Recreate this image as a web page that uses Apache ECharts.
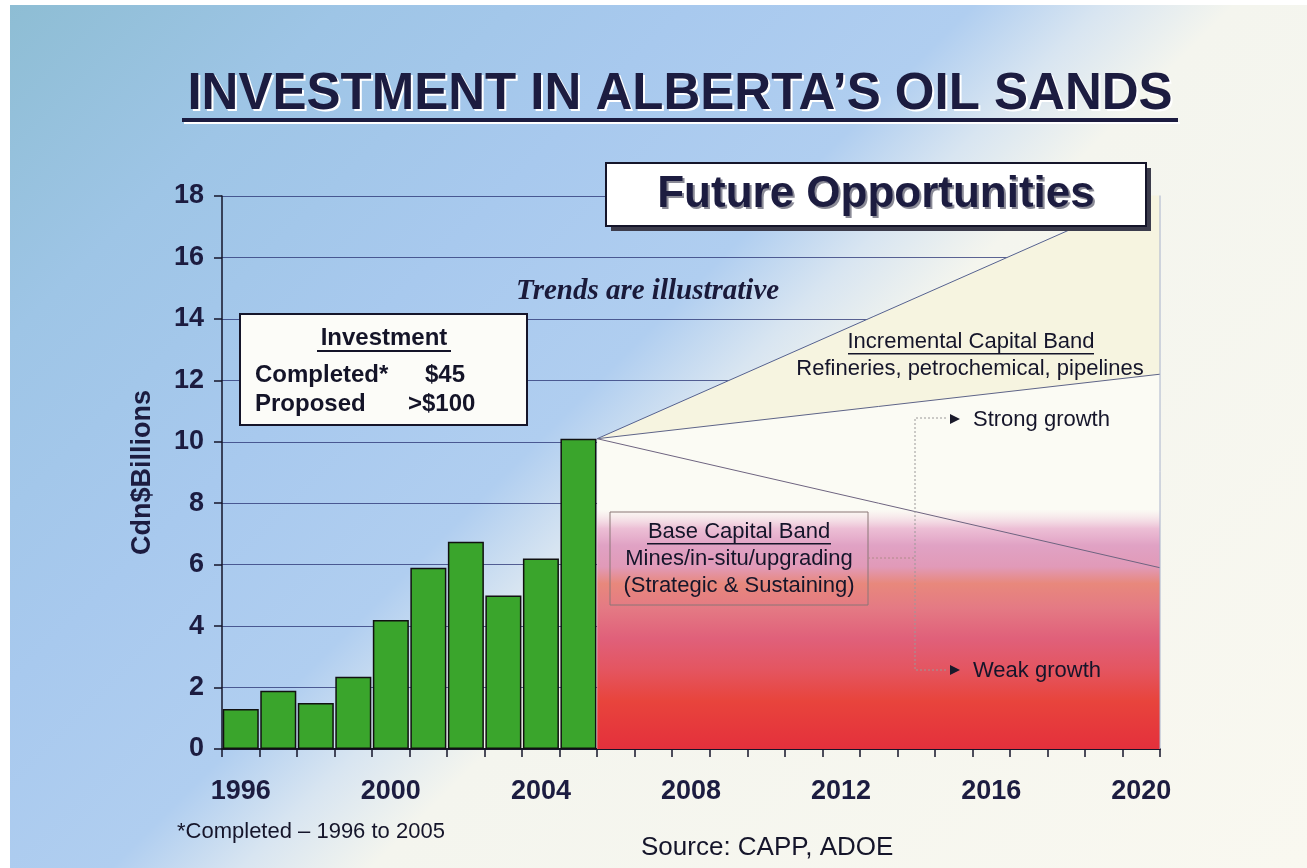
<!DOCTYPE html>
<html>
<head>
<meta charset="utf-8">
<title>Investment in Alberta's Oil Sands</title>
<script src="https://cdn.jsdelivr.net/npm/echarts@6/dist/echarts.min.js"></script>
<style>
  html, body { margin: 0; padding: 0; background: #ffffff; }
  #chart {
    width: 1307px; height: 868px;
    background: linear-gradient(135deg, #8dbdd3 0%, #9ec5e6 16%, #a8c9ee 32%,
      #b0cef0 45%, #d8e5f1 51%, #f4f5ee 57%, #f9f8f0 100%);
  }
</style>
</head>
<body>
<div id="chart"></div>
<script>
// years on the category axis, 1996..2020
const years = ['1996','1997','1998','1999','2000','2001','2002','2003','2004','2005',
  '2006','2007','2008','2009','2010','2011','2012','2013','2014','2015',
  '2016','2017','2018','2019','2020'];
// completed investment, Cdn$ billions
const completed = [1.3, 1.9, 1.5, 2.35, 4.2, 5.9, 6.75, 5.0, 6.2, 10.1];
const yTicks = [0, 2, 4, 6, 8, 10, 12, 14, 16, 18];

// illustrative trend lines (x = year edge, y = Cdn$B)
const trendX = [2005.5, 2020.5];
const strongTrend = [10.1, 18.2];
const incrementalTrend = [10.1, 12.2];
const weakTrend = [10.1, 5.9];
const baseBand = [7.8, 7.8];

const pairs = (xs, ys) => xs.map((x, i) => [x, ys[i]]);

const navy = '#1c1c40';
const sans = 'Liberation Sans, Arial, sans-serif';

const chart = echarts.init(document.getElementById('chart'));

const option = {
  animation: false,
  backgroundColor: 'transparent',
  grid: { left: 222, right: 147, top: 196, bottom: 119 },
  xAxis: [{
    type: 'category',
    data: years,
    boundaryGap: true,
    axisLine: { lineStyle: { color: '#15152a', width: 2 } },
    axisTick: { show: true, length: 8, alignWithLabel: false, interval: 0,
      lineStyle: { color: '#15152a', width: 1.5 } },
    axisLabel: {
      interval: 3, margin: 29, color: navy,
      fontSize: 27, fontWeight: 'bold', fontFamily: sans
    },
    splitLine: { show: false }
  }, {
    type: 'value', min: 1995.5, max: 2020.5, show: false
  }],
  yAxis: {
    type: 'value', min: 0, max: 18, interval: 2,
    name: 'Cdn$Billions', nameLocation: 'middle', nameRotate: 90, nameGap: 66,
    nameTextStyle: { color: navy, fontSize: 27, fontWeight: 'bold', fontFamily: sans },
    axisLine: { show: true, lineStyle: { color: '#15152a', width: 1.5 } },
    axisTick: { show: true, length: 8, lineStyle: { color: '#15152a', width: 1.5 } },
    axisLabel: {
      margin: 18, color: navy, fontSize: 27, fontWeight: 'bold', fontFamily: sans,
      formatter: v => (yTicks.includes(v) ? String(v) : '')
    },
    splitLine: { lineStyle: { color: 'rgba(40,50,115,0.75)', width: 1 } }
  },
  series: [
    {
      name: 'Completed',
      type: 'bar',
      data: completed,
      barCategoryGap: '4%',
      itemStyle: { color: '#3aa52c', borderColor: '#111111', borderWidth: 1.5 },
      z: 3
    },
    {
      // incremental capital band (top edge)
      name: 'Strong',
      type: 'line', xAxisIndex: 1,
      data: pairs(trendX, strongTrend),
      symbol: 'none',
      lineStyle: { color: '#55618f', width: 1 },
      areaStyle: { color: '#f6f4e0', opacity: 1 }
    },
    {
      name: 'Incremental',
      type: 'line', xAxisIndex: 1,
      data: pairs(trendX, incrementalTrend),
      symbol: 'none',
      lineStyle: { color: '#5e6488', width: 1 },
      areaStyle: { color: '#fbfbf4', opacity: 1 }
    },
    {
      // base capital band
      name: 'Base',
      type: 'line', xAxisIndex: 1,
      data: pairs(trendX, baseBand),
      symbol: 'none',
      lineStyle: { width: 0 },
      areaStyle: {
        opacity: 1,
        color: new echarts.graphic.LinearGradient(0, 0, 0, 1, [
          { offset: 0, color: 'rgba(240,200,220,0)' },
          { offset: 0.08, color: 'rgba(230,165,200,0.7)' },
          { offset: 0.15, color: '#e0a2c4' },
          { offset: 0.24, color: '#e19ab8' },
          { offset: 0.31, color: '#e8887c' },
          { offset: 0.41, color: '#e47a84' },
          { offset: 0.54, color: '#e0607a' },
          { offset: 0.67, color: '#e45560' },
          { offset: 0.8, color: '#e8443c' },
          { offset: 1, color: '#e4303c' }
        ])
      }
    },
    {
      name: 'Weak',
      type: 'line', xAxisIndex: 1,
      data: pairs(trendX, weakTrend),
      symbol: 'none',
      lineStyle: { color: '#6e6480', width: 1 }
    },
    {
      // right edge of the projection
      name: 'Edge',
      type: 'line', xAxisIndex: 1,
      data: [[trendX[1], 0], [trendX[1], strongTrend[1]]],
      symbol: 'none',
      lineStyle: { color: '#a8b2cc', width: 1 }
    }
  ],
  graphic: [
    // page margins
    { type: 'rect', z: 50, shape: { x: 0, y: 0, width: 10, height: 868 }, style: { fill: '#ffffff' } },
    { type: 'rect', z: 50, shape: { x: 0, y: 0, width: 1307, height: 5 }, style: { fill: '#ffffff' } },

    // title
    { type: 'text', z: 60, x: 682, y: 97,
      style: { text: 'INVESTMENT IN ALBERTA\u2019S OIL SANDS', fill: '#ffffff',
        font: 'bold 51px ' + sans, textAlign: 'center', textVerticalAlign: 'middle' } },
    { type: 'text', z: 61, x: 680, y: 95,
      style: { text: 'INVESTMENT IN ALBERTA\u2019S OIL SANDS', fill: navy,
        font: 'bold 51px ' + sans, textAlign: 'center', textVerticalAlign: 'middle' } },
    { type: 'rect', z: 61, shape: { x: 182, y: 118, width: 996, height: 4 }, style: { fill: navy } },
    { type: 'rect', z: 60, shape: { x: 184, y: 122, width: 996, height: 2 }, style: { fill: '#ffffff' } },

    // Future Opportunities box
    { type: 'rect', z: 60, shape: { x: 611, y: 168, width: 540, height: 63 }, style: { fill: '#3c3c4c' } },
    { type: 'rect', z: 61, shape: { x: 606, y: 163, width: 540, height: 63 },
      style: { fill: '#ffffff', stroke: '#15152a', lineWidth: 2 } },
    { type: 'text', z: 62, x: 878, y: 197,
      style: { text: 'Future Opportunities', fill: '#8a8a96', font: 'bold 44px ' + sans,
        textAlign: 'center', textVerticalAlign: 'middle' } },
    { type: 'text', z: 63, x: 876, y: 195,
      style: { text: 'Future Opportunities', fill: navy, font: 'bold 44px ' + sans,
        textAlign: 'center', textVerticalAlign: 'middle' } },

    // Trends note
    { type: 'text', z: 60, x: 516, y: 292,
      style: { text: 'Trends are illustrative', fill: '#1a1a3a',
        font: 'italic bold 29px Liberation Serif, Times New Roman, serif',
        textVerticalAlign: 'middle' } },

    // Investment box
    { type: 'rect', z: 60, shape: { x: 240, y: 314, width: 287, height: 111 },
      style: { fill: '#fcfcf8', stroke: '#15152a', lineWidth: 2 } },
    { type: 'text', z: 61, x: 384, y: 338,
      style: { text: 'Investment', fill: '#141428', font: 'bold 24px ' + sans,
        textAlign: 'center', textVerticalAlign: 'middle' } },
    { type: 'rect', z: 61, shape: { x: 317, y: 350, width: 134, height: 2 }, style: { fill: '#141428' } },
    { type: 'text', z: 61, x: 255, y: 375,
      style: { text: 'Completed*', fill: '#141428', font: 'bold 24px ' + sans, textVerticalAlign: 'middle' } },
    { type: 'text', z: 61, x: 425, y: 375,
      style: { text: '$45', fill: '#141428', font: 'bold 24px ' + sans, textVerticalAlign: 'middle' } },
    { type: 'text', z: 61, x: 255, y: 404,
      style: { text: 'Proposed', fill: '#141428', font: 'bold 24px ' + sans, textVerticalAlign: 'middle' } },
    { type: 'text', z: 61, x: 408, y: 404,
      style: { text: '>$100', fill: '#141428', font: 'bold 24px ' + sans, textVerticalAlign: 'middle' } },

    // incremental band label
    { type: 'text', z: 60, x: 971, y: 342,
      style: { text: 'Incremental Capital Band', fill: '#15152a', font: '22px ' + sans,
        textAlign: 'center', textVerticalAlign: 'middle' } },
    { type: 'rect', z: 60, shape: { x: 848, y: 353, width: 246, height: 1.5 }, style: { fill: '#15152a' } },
    { type: 'text', z: 60, x: 970, y: 369,
      style: { text: 'Refineries, petrochemical, pipelines', fill: '#15152a', font: '22px ' + sans,
        textAlign: 'center', textVerticalAlign: 'middle' } },

    // base band label box
    { type: 'rect', z: 60, shape: { x: 610, y: 512, width: 258, height: 93 },
      style: { fill: 'none', stroke: '#8a7676', lineWidth: 1 } },
    { type: 'text', z: 61, x: 739, y: 532,
      style: { text: 'Base Capital Band', fill: '#15152a', font: '22px ' + sans,
        textAlign: 'center', textVerticalAlign: 'middle' } },
    { type: 'rect', z: 61, shape: { x: 647, y: 543, width: 184, height: 1.5 }, style: { fill: '#15152a' } },
    { type: 'text', z: 61, x: 739, y: 559,
      style: { text: 'Mines/in-situ/upgrading', fill: '#15152a', font: '22px ' + sans,
        textAlign: 'center', textVerticalAlign: 'middle' } },
    { type: 'text', z: 61, x: 739, y: 586,
      style: { text: '(Strategic & Sustaining)', fill: '#15152a', font: '22px ' + sans,
        textAlign: 'center', textVerticalAlign: 'middle' } },

    // growth bracket
    { type: 'polyline', z: 60,
      shape: { points: [[946, 418], [915, 418], [915, 670], [946, 670]] },
      style: { stroke: '#9a9898', lineWidth: 1, lineDash: [2, 2], fill: 'none' } },
    { type: 'line', z: 60, shape: { x1: 868, y1: 558, x2: 915, y2: 558 },
      style: { stroke: '#b08a8a', lineWidth: 1, lineDash: [2, 2] } },
    { type: 'polygon', z: 60, shape: { points: [[950, 414], [960, 419], [950, 424]] }, style: { fill: '#1a1a2a' } },
    { type: 'polygon', z: 60, shape: { points: [[950, 665], [960, 670], [950, 675]] }, style: { fill: '#1a1a2a' } },
    { type: 'text', z: 60, x: 973, y: 420,
      style: { text: 'Strong growth', fill: '#15152a', font: '22px ' + sans, textVerticalAlign: 'middle' } },
    { type: 'text', z: 60, x: 973, y: 671,
      style: { text: 'Weak growth', fill: '#15152a', font: '22px ' + sans, textVerticalAlign: 'middle' } },

    // footnotes
    { type: 'text', z: 60, x: 177, y: 832,
      style: { text: '*Completed \u2013 1996 to 2005', fill: '#15152a', font: '22px ' + sans, textVerticalAlign: 'middle' } },
    { type: 'text', z: 60, x: 641, y: 848,
      style: { text: 'Source: CAPP, ADOE', fill: '#15152a', font: '26px ' + sans, textVerticalAlign: 'middle' } }
  ]
};

chart.setOption(option);
</script>
</body>
</html>
